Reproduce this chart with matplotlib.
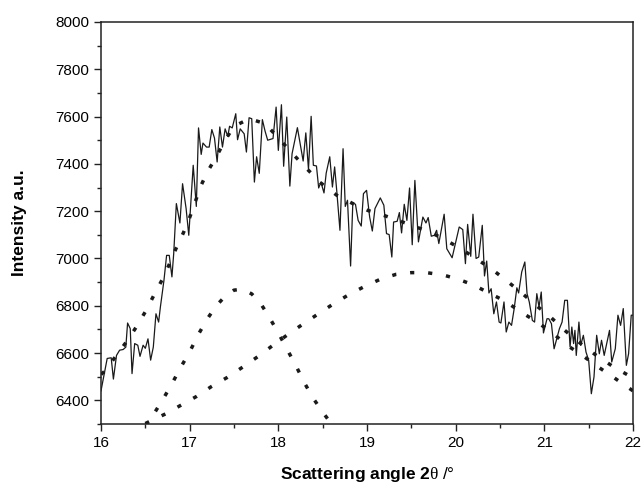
import numpy as np
import matplotlib
matplotlib.use("Agg")
import matplotlib.pyplot as plt
from matplotlib.ticker import MultipleLocator

plt.rcParams['font.family'] = ['Liberation Sans', 'DejaVu Sans']
plt.rcParams['mathtext.fontset'] = 'custom'
plt.rcParams['mathtext.rm'] = 'Liberation Serif'
plt.rcParams['mathtext.bf'] = 'Liberation Sans:bold'
plt.rcParams['mathtext.it'] = 'Liberation Serif'

angle = [16.00, 16.07, 16.115, 16.14, 16.175, 16.21, 16.25, 16.28, 16.30, 16.33,
         16.35, 16.38, 16.415, 16.44, 16.475, 16.50, 16.53, 16.56, 16.59, 16.62,
         16.65, 16.67, 16.71, 16.74, 16.77, 16.80, 16.82, 16.85, 16.89, 16.92,
         16.96, 16.99, 17.01, 17.04, 17.075, 17.10, 17.13, 17.15, 17.19, 17.22,
         17.25, 17.28, 17.31, 17.34, 17.37, 17.40, 17.43, 17.45, 17.48, 17.52,
         17.54, 17.57, 17.615, 17.64, 17.67, 17.70, 17.73, 17.755, 17.785, 17.82,
         17.85, 17.88, 17.94, 17.975, 18.00, 18.035, 18.06, 18.095, 18.13, 18.155,
         18.215, 18.28, 18.31, 18.34, 18.37, 18.395, 18.43, 18.455, 18.48, 18.515,
         18.54, 18.58, 18.61, 18.635, 18.66, 18.695, 18.73, 18.755, 18.78, 18.815,
         18.84, 18.87, 18.90, 18.935, 18.96, 18.995, 19.03, 19.06, 19.09, 19.15,
         19.19, 19.22, 19.25, 19.28, 19.30, 19.34, 19.365, 19.39, 19.42, 19.45,
         19.48, 19.51, 19.54, 19.58, 19.63, 19.665, 19.69, 19.725, 19.76, 19.785,
         19.81, 19.87, 19.90, 19.96, 20.04, 20.08, 20.11, 20.135, 20.17, 20.195,
         20.23, 20.26, 20.30, 20.325, 20.35, 20.375, 20.40, 20.43, 20.46, 20.49,
         20.51, 20.545, 20.57, 20.60, 20.63, 20.66, 20.69, 20.71, 20.745, 20.78,
         20.805, 20.83, 20.865, 20.89, 20.915, 20.94, 20.965, 20.99, 21.03, 21.05,
         21.08, 21.11, 21.17, 21.20, 21.23, 21.26, 21.29, 21.31, 21.33, 21.345,
         21.36, 21.39, 21.41, 21.44, 21.47, 21.50, 21.53, 21.56, 21.59, 21.62,
         21.645, 21.675, 21.735, 21.76, 21.80, 21.83, 21.86, 21.89, 21.925, 21.95,
         21.98, 22.00]
intensity = [6440, 6577, 6580, 6490, 6590, 6612, 6615, 6625, 6727, 6703,
             6513, 6640, 6633, 6586, 6633, 6620, 6660, 6570, 6625, 6766,
             6731, 6795, 6907, 7013, 7013, 6922, 7020, 7232, 7150, 7316,
             7211, 7098, 7218, 7394, 7220, 7552, 7440, 7488, 7471, 7471,
             7545, 7509, 7408, 7556, 7471, 7548, 7516, 7559, 7552, 7612,
             7502, 7548, 7527, 7450, 7595, 7591, 7323, 7430, 7360, 7587,
             7539, 7500, 7507, 7640, 7457, 7650, 7390, 7598, 7306, 7443,
             7553, 7412, 7531, 7377, 7601, 7394, 7391, 7298, 7323, 7277,
             7361, 7430, 7302, 7387, 7281, 7119, 7464, 7220, 7246, 6968,
             7235, 7229, 7161, 7137, 7274, 7288, 7175, 7116, 7211, 7256,
             7225, 7105, 7101, 7006, 7154, 7157, 7194, 7108, 7229, 7161,
             7298, 7058, 7330, 7070, 7175, 7150, 7173, 7094, 7098, 7119,
             7063, 7187, 7041, 7003, 7133, 7122, 6978, 7144, 7009, 7187,
             7000, 7006, 7140, 6926, 6989, 6854, 6872, 6766, 6816, 6731,
             6727, 6816, 6689, 6731, 6717, 6788, 6876, 6854, 6943, 6985,
             6851, 6816, 6738, 6731, 6851, 6795, 6858, 6685, 6745, 6745,
             6724, 6618, 6703, 6731, 6823, 6823, 6626, 6710, 6640, 6696,
             6590, 6731, 6633, 6675, 6604, 6569, 6428, 6499, 6675, 6597,
             6654, 6590, 6696, 6562, 6618, 6760, 6717, 6788, 6548, 6597,
             6760, 6760]

# fitted total curve
fit_x = [16.00, 16.04, 16.17, 16.30, 16.41, 16.51, 16.60, 16.69, 16.77, 16.845,
         16.93, 17.00, 17.06, 17.12, 17.20, 17.30, 17.40, 17.50, 17.675, 17.85,
         18.00, 18.16, 18.32, 18.48, 18.66, 18.84, 19.01, 19.19, 19.36, 19.53,
         19.71, 19.88, 20.06, 20.23, 20.40, 20.57, 20.745, 20.905, 21.07, 21.23,
         21.41, 21.575, 21.77, 21.97, 22.00]
fit_y = [6510, 6522, 6588, 6654, 6717, 6781, 6847, 6910, 6975, 7041,
         7109, 7173, 7236, 7302, 7366, 7430, 7500, 7559, 7591, 7570,
         7510, 7443, 7380, 7319, 7267, 7232, 7203, 7182, 7160, 7136,
         7112, 7079, 7041, 6999, 6957, 6907, 6854, 6802, 6752, 6696,
         6640, 6593, 6544, 6501, 6495]

# narrow component
peak1_x = [16.50, 16.60, 16.70, 16.80, 16.90, 17.00, 17.10, 17.20, 17.30, 17.40, 17.50,
           17.60, 17.70, 17.80, 17.90, 18.00, 18.10, 18.20, 18.30, 18.40, 18.50, 18.60]
peak1_y = [6290, 6345, 6405, 6470, 6540, 6605, 6680, 6745, 6800, 6840, 6866,
           6870, 6850, 6810, 6750, 6685, 6615, 6545, 6470, 6405, 6350, 6300]

# broad component
peak2_x = [16.50, 16.73, 16.895, 17.08, 17.24, 17.42, 17.60, 17.77, 17.93, 18.11,
           18.28, 18.46, 18.63, 18.81, 18.98, 19.15, 19.33, 19.50, 19.67, 19.86,
           20.03, 20.20, 20.37, 20.56, 20.73, 20.91, 21.09, 21.25, 21.41, 21.60,
           21.77, 21.93, 22.00]
peak2_y = [6302, 6343, 6378, 6417, 6457, 6496, 6541, 6585, 6630, 6679,
           6723, 6768, 6810, 6850, 6883, 6912, 6933, 6940, 6940, 6930,
           6912, 6888, 6855, 6819, 6775, 6733, 6686, 6634, 6595, 6543,
           6500, 6458, 6440]

fig = plt.figure(figsize=(6.42, 4.83), dpi=100)
ax = fig.add_axes([0.1573, 0.1222, 0.8287, 0.8323])

dots = (0, (1.2, 4.0))
ax.plot(angle, intensity, color='#1a1a1a', lw=0.9)
ax.plot(fit_x, fit_y, color='#1a1a1a', lw=2.5, linestyle=dots)
ax.plot(peak1_x, peak1_y, color='#1a1a1a', lw=2.5, linestyle=dots)
ax.plot(peak2_x, peak2_y, color='#1a1a1a', lw=2.5, linestyle=dots)

ax.set_xlim(16, 22)
ax.set_ylim(6300, 8000)
ax.xaxis.set_major_locator(MultipleLocator(1))
ax.xaxis.set_minor_locator(MultipleLocator(0.5))
ax.yaxis.set_major_locator(MultipleLocator(200))
ax.yaxis.set_minor_locator(MultipleLocator(100))
ax.set_yticks(np.arange(6400, 8001, 200))
ax.tick_params(which='major', direction='out', length=5, width=1, labelsize=11, color='#222222')
ax.tick_params(which='minor', direction='out', length=3, width=1, color='#222222')
ax.tick_params(top=False, right=False, which='both')
for s in ax.spines.values():
    s.set_linewidth(1.1)
    s.set_color('#222222')

ax.set_xlabel(r'$\mathbf{Scattering\ angle\ 2}\mathrm{\theta}$ /°', fontsize=12.5, labelpad=11)
ax.set_ylabel('Intensity a.u.', fontsize=12.5, fontweight='bold', labelpad=20)

fig.savefig('out.png', dpi=100)
